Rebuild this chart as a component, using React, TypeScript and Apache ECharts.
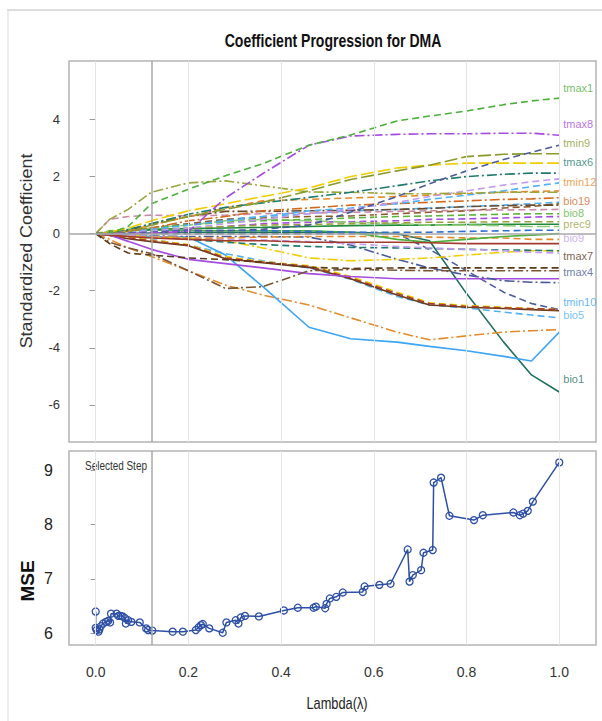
import React, { useEffect, useRef } from "react";
import * as echarts from "echarts";

// ---- Coefficient progression (top panel) ----
const LAMBDA = [0, 0.03, 0.07, 0.12, 0.2, 0.28, 0.36, 0.46, 0.55, 0.65, 0.72, 0.8, 0.88, 0.94, 1.0];

const tmax1 = [0, 0.02, 0.25, 1.05, 1.56, 2.03, 2.45, 3.1, 3.46, 3.95, 4.12, 4.3, 4.52, 4.65, 4.75];
const tmax8 = [0, 0, 0, 0.02, 0.08, 1.25, 2.1, 3.1, 3.42, 3.48, 3.5, 3.5, 3.52, 3.52, 3.45];
const slateUp = [0, 0, 0.02, 0.05, 0.1, 0.1, 0.15, 0.3, 0.75, 1.3, 1.75, 2.2, 2.6, 2.85, 3.1];
const tmin9 = [0, 0, 0.05, 0.3, 0.6, 0.85, 1.1, 1.5, 1.9, 2.2, 2.4, 2.7, 2.78, 2.8, 2.8];
const yellowUp = [0, 0.05, 0.2, 0.45, 0.8, 1.05, 1.3, 1.6, 2.0, 2.3, 2.4, 2.47, 2.47, 2.47, 2.47];
const tmax6 = [0, 0.05, 0.15, 0.35, 0.68, 0.92, 1.08, 1.27, 1.45, 1.68, 1.85, 2.0, 2.08, 2.12, 2.12];
const olivePeak = [0, 0.5, 0.85, 1.45, 1.78, 1.85, 1.68, 1.46, 1.45, 1.4, 1.4, 1.42, 1.45, 1.45, 1.45];
const lavenderUp = [0, 0, 0.05, 0.1, 0.2, 0.35, 0.5, 0.7, 0.85, 1.1, 1.3, 1.5, 1.7, 1.82, 1.92];
const blueUp = [0, 0, 0.05, 0.15, 0.3, 0.45, 0.6, 0.8, 0.9, 1.05, 1.2, 1.35, 1.5, 1.65, 1.78];
const tmin12 = [0, 0.05, 0.1, 0.3, 0.6, 0.9, 1.15, 1.2, 1.25, 1.3, 1.35, 1.4, 1.45, 1.48, 1.5];
const bio19 = [0, 0.03, 0.08, 0.2, 0.45, 0.6, 0.8, 0.9, 1.0, 1.05, 1.1, 1.15, 1.2, 1.22, 1.26];
const mauve = [0, 0.5, 0.6, 0.65, 0.62, 0.65, 0.7, 0.72, 0.75, 0.78, 0.8, 0.82, 0.83, 0.84, 0.85];
const brownUp = [0, 0.02, 0.1, 0.35, 0.6, 0.78, 0.78, 0.8, 0.82, 0.85, 0.88, 0.95, 0.98, 1.0, 1.0];
const bio8 = [0, 0.1, 0.15, 0.2, 0.3, 0.4, 0.45, 0.5, 0.55, 0.6, 0.62, 0.65, 0.68, 0.7, 0.7];
const prec9 = [0, 0.05, 0.1, 0.15, 0.2, 0.25, 0.3, 0.32, 0.35, 0.38, 0.4, 0.4, 0.42, 0.42, 0.42];
const lightGreen = [0, 0.05, 0.1, 0.2, 0.3, 0.45, 0.5, 0.45, 0.4, 0.35, 0.3, 0.3, 0.28, 0.25, 0.25];
const darkGreen = [0, 0.05, 0.1, 0.15, 0.18, 0.2, 0.22, 0.25, 0.28, 0.3, 0.3, 0.32, 0.33, 0.33, 0.33];
const redFlat = [0, -0.05, -0.1, -0.15, -0.2, -0.25, -0.25, -0.3, -0.3, -0.3, -0.32, -0.35, -0.35, -0.35, -0.35];
const blueFlat = [0, 0.02, 0.05, 0.08, 0.1, 0.12, 0.1, 0.08, 0.05, 0.05, 0.05, 0.08, 0.1, 0.12, 0.12];
const purpleMid = [0, 0.02, 0.05, 0.1, 0.15, 0.25, 0.35, 0.4, 0.42, 0.45, 0.5, 0.52, 0.55, 0.58, 0.6];
const brownMid = [0, 0.05, 0.1, 0.2, 0.35, 0.5, 0.55, 0.6, 0.62, 0.7, 0.75, 0.8, 0.9, 0.95, 1.05];
const blueMid = [0, 0.03, 0.1, 0.2, 0.35, 0.5, 0.6, 0.7, 0.8, 0.85, 0.9, 0.95, 1.0, 1.05, 1.1];
const greenDip = [0, 0.05, 0.1, 0.12, 0.12, 0.1, 0.1, 0.1, 0.05, -0.2, -0.3, -0.2, -0.1, -0.05, 0];
const orangeFlat = [0, -0.05, -0.1, -0.12, -0.15, -0.15, -0.12, -0.1, -0.1, -0.1, -0.12, -0.15, -0.15, -0.2, -0.2];
const bio9 = [0, -0.02, -0.05, -0.1, -0.15, -0.2, -0.22, -0.28, -0.35, -0.45, -0.5, -0.55, -0.6, -0.65, -0.68];
const tealLow = [0, -0.05, -0.08, -0.1, -0.2, -0.3, -0.38, -0.45, -0.48, -0.5, -0.52, -0.55, -0.57, -0.58, -0.6];
const yellowLow = [0, 0, -0.05, -0.1, -0.15, -0.25, -0.5, -0.85, -0.95, -0.9, -0.85, -0.75, -0.65, -0.6, -0.6];
const tmax7 = [0, -0.35, -0.68, -0.75, -0.85, -0.91, -1.0, -1.18, -1.22, -1.2, -1.2, -1.2, -1.2, -1.2, -1.2];
const brownDip = [0, -0.3, -0.5, -0.7, -1.3, -1.92, -1.86, -1.3, -1.25, -1.28, -1.3, -1.3, -1.3, -1.3, -1.3];
const tmax4 = [0, -0.02, -0.05, -0.08, -0.1, -0.1, -0.1, -0.12, -0.4, -0.9, -1.2, -1.45, -1.65, -1.7, -1.72];
const purpleLow = [0, -0.05, -0.27, -0.55, -0.9, -1.05, -1.2, -1.4, -1.5, -1.58, -1.58, -1.58, -1.58, -1.58, -1.58];
const redLow = [0, -0.05, -0.15, -0.25, -0.4, -0.85, -1.0, -1.15, -1.55, -2.1, -2.45, -2.55, -2.6, -2.63, -2.66];
const yellowDown = [0, -0.05, -0.12, -0.22, -0.38, -0.8, -0.98, -1.12, -1.5, -2.05, -2.42, -2.52, -2.58, -2.62, -2.66];
const brownLow = [0, -0.06, -0.18, -0.28, -0.42, -0.88, -1.02, -1.18, -1.58, -2.15, -2.5, -2.58, -2.62, -2.66, -2.7];
const tmin10 = [0, 0.02, -0.05, -0.1, -0.12, -0.75, -1.85, -3.28, -3.68, -3.8, -3.95, -4.1, -4.3, -4.46, -3.45];
const bio5 = [0, -0.05, -0.1, -0.2, -0.4, -0.7, -0.95, -1.2, -1.6, -2.2, -2.5, -2.6, -2.75, -2.85, -2.95];
const orangeLow = [0, -0.2, -0.5, -0.8, -1.3, -1.8, -2.15, -2.5, -2.95, -3.45, -3.72, -3.58, -3.45, -3.4, -3.36];
const bio1 = [0, 0, 0, 0.02, 0.05, 0.05, 0.05, 0.05, 0.05, 0.0, -0.25, -2.1, -3.8, -4.95, -5.55];
const slateDown = [0, 0, 0, 0, 0, 0, 0, 0, 0, 0, -0.55, -1.3, -2.05, -2.45, -2.66];

// Right-hand labels (text and the level where each label sits)
const LABEL_NAMES = ["tmax1", "tmax8", "tmin9", "tmax6", "tmin12", "bio19", "bio8", "prec9", "bio9", "tmax7", "tmax4", "tmin10", "bio5", "bio1"];
const LABEL_Y = [5.1, 3.85, 3.18, 2.52, 1.82, 1.15, 0.73, 0.35, -0.14, -0.8, -1.33, -2.4, -2.84, -5.1];

// ---- MSE (bottom panel) ----
const MSE_LAMBDA = [0, 0, 0.002, 0.006, 0.008, 0.011, 0.016, 0.022, 0.027, 0.031, 0.033, 0.045, 0.049, 0.054, 0.058, 0.063, 0.065, 0.07, 0.077, 0.095, 0.109, 0.113, 0.122, 0.166, 0.188, 0.216, 0.222, 0.227, 0.231, 0.245, 0.274, 0.282, 0.302, 0.308, 0.313, 0.322, 0.352, 0.406, 0.436, 0.47, 0.475, 0.495, 0.498, 0.505, 0.519, 0.533, 0.576, 0.58, 0.612, 0.636, 0.673, 0.677, 0.684, 0.702, 0.707, 0.727, 0.729, 0.745, 0.763, 0.816, 0.835, 0.901, 0.915, 0.922, 0.932, 0.943, 1.0];
const MSE_VALUES = [6.4, 6.1, 6.06, 6.03, 6.07, 6.13, 6.18, 6.21, 6.23, 6.2, 6.36, 6.36, 6.32, 6.32, 6.31, 6.28, 6.18, 6.24, 6.21, 6.2, 6.09, 6.06, 6.05, 6.03, 6.03, 6.06, 6.11, 6.15, 6.17, 6.09, 6.01, 6.2, 6.24, 6.18, 6.29, 6.32, 6.31, 6.42, 6.47, 6.47, 6.49, 6.46, 6.54, 6.64, 6.67, 6.75, 6.76, 6.86, 6.89, 6.91, 7.54, 6.95, 7.07, 7.16, 7.48, 7.53, 8.77, 8.86, 8.16, 8.08, 8.17, 8.22, 8.17, 8.2, 8.25, 8.42, 9.14];

const SELECTED_STEP = 0.12;
const X_TICKS = [0, 0.2, 0.4, 0.6, 0.8, 1.0];
const COEF_TICKS = [-6, -4, -2, 0, 2, 4];
const MSE_TICKS = [6, 7, 8, 9];

const DASH = [7, 4];
const DASHDOT = [10, 3, 2, 3];
const LONG = [13, 4];

const SANS = "'Liberation Sans', Arial, sans-serif";

const SPECS: any[] = [
  { name: "slateDown", data: slateDown, color: "#4B5A9B", dash: DASH },
  { name: "bio1", data: bio1, color: "#1E6F5F", dash: "solid" },
  { name: "orangeLow", data: orangeLow, color: "#E58A2A", dash: DASHDOT },
  { name: "bio5", data: bio5, color: "#52B0F5", dash: DASH },
  { name: "tmin10", data: tmin10, color: "#3DA5F4", dash: "solid" },
  { name: "brownLow", data: brownLow, color: "#6B3A1A", dash: "solid" },
  { name: "yellowDown", data: yellowDown, color: "#F0CC00", dash: DASH },
  { name: "redLow", data: redLow, color: "#A33A2E", dash: DASH },
  { name: "purpleLow", data: purpleLow, color: "#A64BE0", dash: "solid" },
  { name: "tmax4", data: tmax4, color: "#4B5A9B", dash: DASHDOT },
  { name: "brownDip", data: brownDip, color: "#7A5533", dash: DASHDOT },
  { name: "tmax7", data: tmax7, color: "#5A3A1A", dash: DASH },
  { name: "yellowLow", data: yellowLow, color: "#F0CC00", dash: DASHDOT },
  { name: "tealLow", data: tealLow, color: "#1E7B6E", dash: DASH },
  { name: "bio9", data: bio9, color: "#C29BF2", dash: DASH },
  { name: "orangeFlat", data: orangeFlat, color: "#E58A2A", dash: DASH },
  { name: "greenDip", data: greenDip, color: "#4DAF3C", dash: "solid" },
  { name: "blueMid", data: blueMid, color: "#4FB0F5", dash: DASH },
  { name: "brownMid", data: brownMid, color: "#8B5A2B", dash: DASH },
  { name: "purpleMid", data: purpleMid, color: "#A64BE0", dash: DASH },
  { name: "blueFlat", data: blueFlat, color: "#2F6FD0", dash: DASH },
  { name: "redFlat", data: redFlat, color: "#A33A2E", dash: "solid" },
  { name: "darkGreen", data: darkGreen, color: "#1E8A3A", dash: "solid" },
  { name: "lightGreen", data: lightGreen, color: "#8FCB7A", dash: LONG },
  { name: "prec9", data: prec9, color: "#9AA040", dash: DASH },
  { name: "bio8", data: bio8, color: "#5DB33B", dash: DASH },
  { name: "brownUp", data: brownUp, color: "#6B4A2A", dash: DASHDOT },
  { name: "mauve", data: mauve, color: "#C98BA8", dash: DASH },
  { name: "bio19", data: bio19, color: "#D2691E", dash: DASHDOT },
  { name: "tmin12", data: tmin12, color: "#E58A2A", dash: DASH },
  { name: "blueUp", data: blueUp, color: "#4FB0F5", dash: DASH },
  { name: "lavenderUp", data: lavenderUp, color: "#C29BF2", dash: DASH },
  { name: "olivePeak", data: olivePeak, color: "#9AA53A", dash: DASHDOT },
  { name: "tmax6", data: tmax6, color: "#1E7B6E", dash: DASHDOT },
  { name: "yellowUp", data: yellowUp, color: "#F0CC00", dash: LONG },
  { name: "tmin9", data: tmin9, color: "#8A9A2B", dash: LONG },
  { name: "slateUp", data: slateUp, color: "#4B5A9B", dash: DASH },
  { name: "tmax8", data: tmax8, color: "#A64BE0", dash: DASHDOT },
  { name: "tmax1", data: tmax1, color: "#4DAF3C", dash: DASH },
];

const LABEL_COLORS: Record<string, string> = {
  tmax1: "#4DAF3C", tmax8: "#A64BE0", tmin9: "#8A9A2B", tmax6: "#1E7B6E", tmin12: "#E58A2A",
  bio19: "#D2691E", bio8: "#5DB33B", prec9: "#9AA040", bio9: "#C29BF2", tmax7: "#5A3A1A",
  tmax4: "#4B5A9B", tmin10: "#3DA5F4", bio5: "#52B0F5", bio1: "#1E6F5F",
};

export default function App() {
  const ref = useRef<HTMLDivElement>(null);
  useEffect(() => {
    if (!ref.current) return;
    const chart = echarts.init(ref.current, undefined, { renderer: "svg" });
    const X_MIN = -0.0576;
    const X_MAX = 1.0792;
    const gridLineData = X_TICKS.map((v) => ({ xAxis: v }));
    const lineSeries = SPECS.map((s) => ({
      type: "line",
      name: s.name,
      xAxisIndex: 0,
      yAxisIndex: 0,
      data: LAMBDA.map((x, i) => [x, s.data[i]]),
      showSymbol: false,
      symbol: "none",
      silent: true,
      z: 3,
      lineStyle: { color: s.color, width: 1.6, type: s.dash },
    }));
    const txt = (extra: any) => ({ textAlign: "center", textVerticalAlign: "middle", align: "center", verticalAlign: "middle", ...extra });
    const option: any = {
      animation: false,
      backgroundColor: "#ffffff",
      grid: [
        { left: 69, top: 61, width: 527, height: 381, show: true, borderColor: "#b4b4b4", borderWidth: 1.5, backgroundColor: "transparent" },
        { left: 69, top: 451, width: 527, height: 194, show: true, borderColor: "#b4b4b4", borderWidth: 1.5, backgroundColor: "transparent" },
      ],
      xAxis: [
        { type: "value", gridIndex: 0, min: X_MIN, max: X_MAX, axisLine: { show: false }, axisTick: { show: false }, axisLabel: { show: false }, splitLine: { show: false } },
        {
          type: "value", gridIndex: 1, min: X_MIN, max: X_MAX,
          axisLine: { show: false }, axisTick: { show: false }, splitLine: { show: false },
          axisLabel: { customValues: X_TICKS, formatter: (v: number) => v.toFixed(1), color: "#333", fontSize: 14, fontFamily: SANS, margin: 20 },
        },
      ],
      yAxis: [
        {
          type: "value", gridIndex: 0, min: -7.3, max: 6.05,
          axisLine: { show: false }, splitLine: { show: false },
          axisTick: { show: true, customValues: COEF_TICKS, length: 6, lineStyle: { color: "#999" } },
          axisLabel: { customValues: COEF_TICKS, color: "#333", fontSize: 13, fontFamily: SANS, margin: 9 },
        },
        {
          type: "value", gridIndex: 1, min: 5.785, max: 9.35,
          axisLine: { show: false }, splitLine: { show: false },
          axisTick: { show: true, customValues: MSE_TICKS, length: 5, lineStyle: { color: "#999" } },
          axisLabel: { customValues: MSE_TICKS, color: "#222", fontSize: 16, fontFamily: SANS, margin: 16 },
        },
      ],
      series: [
        {
          type: "line", xAxisIndex: 0, yAxisIndex: 0, data: [[0, 0]], symbol: "none", lineStyle: { opacity: 0 }, silent: true, z: 1,
          markLine: {
            silent: true, symbol: "none", label: { show: false }, animation: false,
            data: [
              ...gridLineData.map((d) => ({ ...d, lineStyle: { color: "#e4e4e4", width: 1, type: "solid" } })),
              { xAxis: SELECTED_STEP, lineStyle: { color: "#a8a8a8", width: 1.5, type: "solid" } },
              { yAxis: 0, lineStyle: { color: "#a8a8a8", width: 1.5, type: "solid" } },
            ],
          },
        },
        ...lineSeries,
        {
          type: "scatter", xAxisIndex: 0, yAxisIndex: 0, symbolSize: 0, silent: true, z: 5,
          data: LABEL_NAMES.map((n, i) => ({
            value: [1.0, LABEL_Y[i]], name: n,
            label: { show: true, position: "right", distance: 4, formatter: n, color: LABEL_COLORS[n], fontSize: 11, lineHeight: 12, fontFamily: SANS },
          })),
        },
        {
          type: "line", xAxisIndex: 1, yAxisIndex: 1, data: [[0, 6]], symbol: "none", lineStyle: { opacity: 0 }, silent: true, z: 1,
          markLine: {
            silent: true, symbol: "none", label: { show: false }, animation: false,
            data: [
              ...gridLineData.map((d) => ({ ...d, lineStyle: { color: "#e4e4e4", width: 1, type: "solid" } })),
              { xAxis: SELECTED_STEP, lineStyle: { color: "#a8a8a8", width: 1.5, type: "solid" } },
            ],
          },
        },
        {
          type: "line", xAxisIndex: 1, yAxisIndex: 1, z: 3,
          data: MSE_LAMBDA.map((x, i) => [x, MSE_VALUES[i]]),
          symbol: "circle", symbolSize: 7, showAllSymbol: true,
          lineStyle: { color: "#2D4FA5", width: 1.5 },
          itemStyle: { color: "rgba(255,255,255,0)", borderColor: "#2D4FA5", borderWidth: 1.3 },
        },
      ],
      graphic: [
        { type: "line", shape: { x1: 7, y1: 10, x2: 602, y2: 10 }, style: { stroke: "#d2d2d2", lineWidth: 1.5 }, silent: true },
        { type: "line", shape: { x1: 8, y1: 10, x2: 8, y2: 721 }, style: { stroke: "#dcdcdc", lineWidth: 1 }, silent: true },
        { type: "text", x: 333, y: 40, scaleX: 0.78, style: txt({ text: "Coefficient Progression for DMA", fill: "#111", font: `bold 18px ${SANS}` }) },
        { type: "text", x: 27, y: 251, rotation: Math.PI / 2, scaleX: 1.12, style: txt({ text: "Standardized Coefficient", fill: "#333", font: `16px ${SANS}` }) },
        { type: "text", x: 27, y: 581, rotation: Math.PI / 2, style: txt({ text: "MSE", fill: "#111", font: `bold 19px ${SANS}` }) },
        { type: "text", x: 337, y: 703, scaleX: 0.8, style: txt({ text: "Lambda(λ)", fill: "#222", font: `16px ${SANS}` }) },
        { type: "text", x: 85, y: 466, scaleX: 0.83, style: { text: "Selected Step", fill: "#333", font: `12px ${SANS}`, textAlign: "left", textVerticalAlign: "middle", align: "left", verticalAlign: "middle" } },
      ],
    };
    chart.setOption(option);
    return () => chart.dispose();
  }, []);
  return <div ref={ref} style={{ position: "absolute", left: 0, top: 0, width: 602, height: 721, background: "#fff" }} />;
}
